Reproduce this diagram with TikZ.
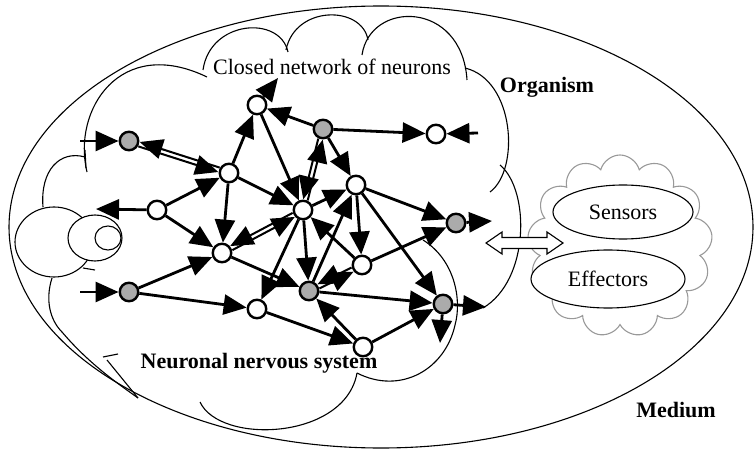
\documentclass[tikz,border=0pt]{standalone}
\usepackage{fontspec}
\setmainfont{Liberation Serif}
\usetikzlibrary{arrows.meta, shapes.geometric, shapes.symbols, positioning, calc}
\tikzstyle{cell} = [circle, draw, line width=2.4pt, fill=white, minimum size=18.5pt, inner sep=0pt]
\tikzstyle{hub} = [cell, fill=black!33]
\tikzstyle{link} = [line width=2.8pt, -{Triangle[length=23pt,width=20pt]}]
\tikzstyle{twin} = [link, line width=2pt, shorten <=10.5pt, shorten >=10.5pt]
\tikzstyle{rim} = [line width=1.1pt]
\tikzstyle{caption} = [font=\fontsize{22}{26}\selectfont, inner sep=0pt]
\tikzstyle{heading} = [font=\fontsize{22}{26}\selectfont\bfseries, inner sep=0pt]

\begin{document}
\begin{tikzpicture}[x=1pt, y=-1pt]
      \useasboundingbox (0,0) rectangle (754,449);

      % Medium and organism
      \draw[rim] (381,227) ellipse [x radius=372, y radius=221];

      % Cloud outlines
      \draw[rim] (43,207) .. controls (40,170) and (60,150) .. (85,157);
      \draw[rim] (85,150) -- (86,168);
      \draw[rim] (87,172) .. controls (72,110) and (120,35) .. (207,77);
      \draw[rim] (203,70) .. controls (210,20) and (280,15) .. (288,52);
      \draw[rim] (286,50) .. controls (295,5) and (362,5) .. (368,40);
      \draw[rim] (362,55) .. controls (370,0) and (462,0) .. (467,80);
      \draw[rim] (465,68) .. controls (515,80) and (520,170) .. (490,192);
      \draw[rim] (500,165) .. controls (530,190) and (530,280) .. (483,308);
      \draw[rim] (423,240) .. controls (455,260) and (462,300) .. (455,325)
                 .. controls (445,370) and (400,395) .. (357,373);
      \draw[rim] (357,373) .. controls (345,440) and (220,445) .. (200,402);
      \draw[rim] (52,278) .. controls (45,300) and (50,320) .. (62,332)
                 .. controls (90,365) and (120,385) .. (138,398);
      \draw[rim] (103,357) -- (118,354);
      \draw[rim] (107,360) -- (138,398);
      \draw[rim] (83,268) -- (95,270);

      % Left bodies
      \draw[rim, fill=white] (54,242) ellipse [x radius=39, y radius=35];
      \draw[rim, fill=white] (95,238) ellipse [x radius=27, y radius=23];
      \draw[rim, fill=white] (108,238) ellipse [x radius=13, y radius=12];

      % Sensors and effectors
      \node[cloud, cloud puffs=13, cloud ignores aspect, draw=black!40, rim,
            minimum width=185pt, minimum height=182pt] (medcloud) at (620,246) {};
      \node[ellipse, draw, rim, fill=white, minimum width=140pt, minimum height=54pt,
            caption] (sensors) at (623,212) {Sensors};
      \node[ellipse, draw, rim, fill=white, minimum width=154pt, minimum height=58pt,
            caption] (effectors) at (608,279) {Effectors};
      \draw[rim, fill=white] (486,243) -- (502,232) -- (502,237.5) -- (547,237.5)
            -- (547,232) -- (563,243) -- (547,254) -- (547,248.5) -- (502,248.5)
            -- (502,254) -- cycle;

      % Labels
      \node[caption] (closedlbl) at (332,67) {Closed network of neurons};
      \node[heading] (orglbl) at (547,87) {Organism};
      \node[heading] (nervlbl) at (259,363) {Neuronal nervous system};
      \node[heading] (medlbl) at (676,410) {Medium};

      % Neurons
      \node[hub] (g1) at (129,141) {};
      \node[cell] (w1) at (229,173) {};
      \node[cell] (w2) at (157,210) {};
      \node[cell] (w3) at (222,253) {};
      \node[cell] (wt) at (257,105) {};
      \node[hub] (g2) at (323,129) {};
      \node[cell] (wr) at (436,134) {};
      \node[cell] (wc) at (303,210) {};
      \node[cell] (wcr) at (356,185) {};
      \node[hub] (g3) at (456,223) {};
      \node[cell] (wlr) at (362,265) {};
      \node[hub] (g4) at (309,291) {};
      \node[hub] (g5) at (129,292) {};
      \node[cell] (wbl) at (257,309) {};
      \node[cell] (wb) at (363,347) {};
      \node[hub] (g6) at (443,304) {};

      % Loose ends
      \coordinate (in1) at (80,141);
      \coordinate (out2) at (96,209);
      \coordinate (in5) at (80,292);
      \coordinate (outt) at (278,78);
      \coordinate (inr) at (478,133);
      \coordinate (out3) at (492,221);
      \coordinate (out6r) at (486,307);
      \coordinate (out6d) at (440,343);

      % Synapses
      \foreach \a/\b in {in1/g1, w2/out2, w2/w1, w2/w3, w1/wt, w1/w3, w1/wc,
                         wt/outt, g2/wt, wt/wc, g2/wr, inr/wr, g2/wcr, wc/wcr,
                         wcr/g3, g3/out3, wcr/wlr, wcr/g6, wlr/g3, wlr/wc,
                         g4/wcr, wc/g4, wc/wbl, w3/g4, g4/g6, wb/g4, wbl/wb,
                         wb/g6, g6/out6r, g6/out6d, g5/w3, g5/wbl, in5/g5}
        \draw[link] (\a) -- (\b);
      % Two-way synapses
      \foreach \a/\b in {g1/w1, w1/g1, g2/wc, wc/g2, w3/wc, wc/w3, wlr/g4, g4/wlr}
        \draw[twin] ($(\a.center)!2.3pt!-90:(\b.center)$) -- ($(\b.center)!2.3pt!90:(\a.center)$);
\end{tikzpicture}
\end{document}
